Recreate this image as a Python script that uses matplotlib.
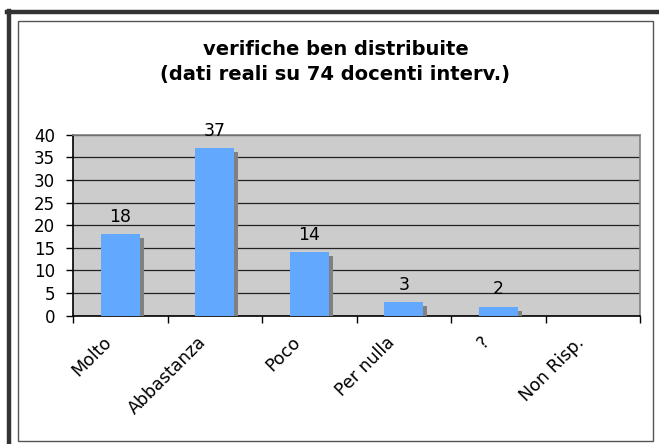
import matplotlib
matplotlib.use("Agg")
import matplotlib.pyplot as plt
import matplotlib.patheffects as pe
import matplotlib.transforms as mtransforms
from matplotlib.patches import Rectangle
from matplotlib.lines import Line2D

categories = ["Molto", "Abbastanza", "Poco", "Per nulla", "?", "Non Risp."]
values = [18, 37, 14, 3, 2, 0]
yticks = [0, 5, 10, 15, 20, 25, 30, 35, 40]
title = "verifiche ben distribuite\n(dati reali su 74 docenti interv.)"

plt.rcParams['font.family'] = ['DejaVu Sans']

W, H = 659, 444
fig = plt.figure(figsize=(W / 100, H / 100), dpi=100)
fig.patch.set_facecolor('white')

def fx(px):
    return px / W

def fy(py):
    return 1 - py / H

# frame decorations
fig.add_artist(Line2D([fx(8.5), fx(8.5)], [fy(11), fy(444)], color='#333333', lw=3.2))
fig.add_artist(Line2D([fx(7), fx(659)], [fy(12.5), fy(12.5)], color='#333333', lw=3.2))
fig.add_artist(Rectangle((fx(17.5), fy(441)), fx(652.5) - fx(17.5), fy(21.5) - fy(441),
                         fill=False, edgecolor='#555555', lw=1.0))

ax = fig.add_axes([fx(73), fy(315.7), fx(640) - fx(73), fy(134.7) - fy(315.7)])
ax.set_facecolor('#cccccc')

x = list(range(len(categories)))
bars = ax.bar(x, values, width=0.41, color='#62a8ff', edgecolor='none', zorder=3)
for b in bars:
    b.set_path_effects([pe.SimplePatchShadow(offset=(2.9, -2.9), shadow_rgbFace='#808080', alpha=1.0),
                        pe.Normal()])

labels = [str(v) if v != 0 else '' for v in values]
ax.bar_label(bars, labels=labels, padding=6, fontsize=12.5, color='black')

ax.set_xlim(-0.5, len(categories) - 0.5)
ax.set_ylim(0, 40)
ax.set_yticks(yticks)
ax.yaxis.grid(True, color='#222222', lw=0.9, zorder=1)
ax.set_axisbelow(True)
ax.tick_params(axis='y', labelsize=12, length=5, width=1, direction='out', pad=8)

ax.set_xticks(x)
ax.set_xticklabels(categories, rotation=45, ha='right', va='top', fontsize=12.5)
ax.tick_params(axis='x', which='major', length=0, pad=6)
ax.set_xticks([i - 0.5 for i in range(len(categories) + 1)], minor=True)
ax.tick_params(axis='x', which='minor', length=5, width=1, direction='out')
shift = mtransforms.ScaledTranslation(-5 / 100, -9 / 100, fig.dpi_scale_trans)
for lab in ax.get_xticklabels():
    lab.set_transform(lab.get_transform() + shift)

for s in ['left', 'bottom']:
    ax.spines[s].set_color('black')
    ax.spines[s].set_linewidth(1.2)
for s in ['top', 'right']:
    ax.spines[s].set_color('#808080')
    ax.spines[s].set_linewidth(1.2)

fig.text(fx(335.5), fy(62), title, ha='center', va='center', fontsize=14,
         fontweight='bold', linespacing=1.35, multialignment='center')

fig.savefig('out.png', dpi=100)
